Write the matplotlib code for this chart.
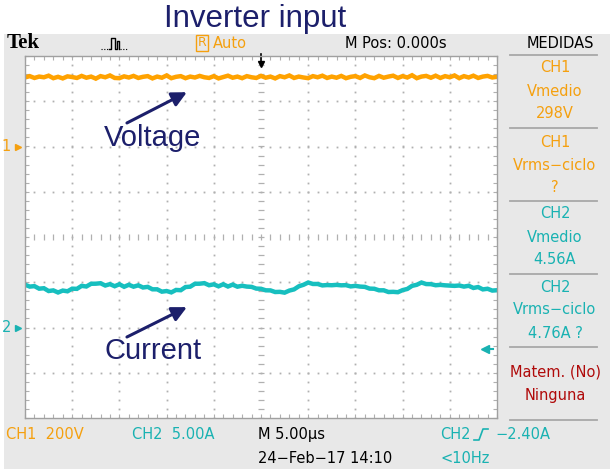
import matplotlib.pyplot as plt
import numpy as np
from matplotlib.lines import Line2D
from matplotlib.patches import Rectangle

# ---- datos ----
ch1_volts = [305, 311, 303, 309, 306, 313, 302, 308, 301, 310,
             307, 303, 312, 304, 309, 300, 311, 306, 314, 303,
             302, 310, 305, 312, 303, 308, 311, 301, 309, 304,
             314, 302, 308, 311, 302, 309, 305, 312, 306, 303,
             311, 301, 307, 313, 304, 309, 302, 311, 306, 303,
             312, 304, 309, 301, 311, 306, 314, 303, 309, 305,
             302, 311, 306, 313, 303, 309, 304, 312, 302, 308,
             311, 303, 314, 306, 302, 312, 304, 309, 313, 303,
             311, 305, 315, 302, 309, 312, 304, 313, 303, 311,
             306, 314, 302, 311, 305, 313, 303, 309, 312, 305, 308]
ch2_amps = [4.73, 4.52, 4.57, 4.29, 4.34, 4.03, 4.10, 3.87, 4.08, 4.00,
            4.29, 4.27, 4.60, 4.53, 4.83, 4.84, 4.89, 4.64, 4.79, 4.56,
            4.78, 4.50, 4.72, 4.51, 4.66, 4.42, 4.49, 4.22, 4.22, 3.96,
            4.03, 3.88, 4.15, 4.12, 4.47, 4.51, 4.83, 4.84, 4.90, 4.67,
            4.77, 4.55, 4.78, 4.53, 4.74, 4.51, 4.61, 4.52, 4.49, 4.30,
            4.28, 4.11, 4.10, 3.92, 3.94, 3.85, 4.08, 4.21, 4.55, 4.72,
            4.97, 4.81, 4.81, 4.65, 4.69, 4.67, 4.71, 4.66, 4.68, 4.54,
            4.60, 4.52, 4.49, 4.30, 4.28, 4.11, 4.11, 3.92, 3.94, 3.90,
            4.13, 4.26, 4.60, 4.72, 4.97, 4.80, 4.79, 4.67, 4.71, 4.66,
            4.63, 4.60, 4.64, 4.52, 4.61, 4.37, 4.47, 4.21, 4.28, 4.08,
            4.12]
time_us = np.linspace(-25, 25, len(ch1_volts))

ch1_scale, ch1_pos = 200.0, 2.0   # V/div, div
ch2_scale, ch2_pos = 5.0, -2.0    # A/div, div
trig_level = -2.40                # A

medidas = [
    (['CH1', 'Vmedio', '298V'], 'orange'),
    (['CH1', 'Vrms\u2212ciclo', '?'], 'orange'),
    (['CH2', 'Vmedio', '4.56A'], 'cyan'),
    (['CH2', 'Vrms\u2212ciclo', '4.76A ?'], 'cyan'),
    (['Matem. (No)', 'Ninguna'], 'red'),
]

colors = {'orange': '#f5a00f', 'cyan': '#19b2b2', 'red': '#b00a0a'}
trace1_color = '#ffa200'
trace2_color = '#17bfbf'
navy = '#1c1f6b'
grat = '#b0b0b0'
bg = '#e8e8e8'

W, H = 610, 469
scope_font = ['Liberation Sans Narrow', 'DejaVu Sans']
fig = plt.figure(figsize=(W / 100, H / 100), dpi=100)
fig.patch.set_facecolor('white')


def px(x, y):
    return x / W, 1 - y / H


def stext(x, y, s, color='black', size=10.5, ha='left', **kw):
    fig.text(*px(x, y), s, color=color, fontsize=size, ha=ha, va='center',
             family=scope_font, **kw)


# fondo gris de la pantalla
back = fig.add_axes([0, 0, 1, 1], zorder=-5)
back.set_axis_off()
back.set_xlim(0, W)
back.set_ylim(H, 0)
back.add_patch(Rectangle((4, 34), W - 4, H - 34, color=bg, lw=0))

# reticula
ax = fig.add_axes([25 / W, 1 - 418 / H, 472 / W, 362 / H], zorder=1)
ax.set_facecolor('white')
ax.set_xlim(-25, 25)
ax.set_ylim(-4, 4)
ax.set_xticks(np.arange(-25, 25.01, 1))
ax.set_yticks(np.arange(-4, 4.01, 0.2))
ax.tick_params(direction='in', length=3, width=0.8, color=grat,
               top=True, right=True, labelbottom=False, labelleft=False)
for sp in ax.spines.values():
    sp.set_color('#a0a0a0')
    sp.set_linewidth(1)

ys = np.arange(-4, 4.01, 0.2)
xs = np.arange(-25, 25.01, 1)
for xv in range(-20, 21, 5):
    if xv == 0:
        ax.plot(np.zeros_like(ys), ys, ls='none', marker='_', ms=5,
                mew=0.9, color=grat)
    else:
        ax.plot(np.full_like(ys, xv), ys, ls='none', marker='s', ms=1.3,
                mew=0, color=grat)
for yv in range(-3, 4):
    if yv == 0:
        ax.plot(xs, np.zeros_like(xs), ls='none', marker='|', ms=5,
                mew=0.9, color=grat)
    else:
        ax.plot(xs, np.full_like(xs, yv, dtype=float), ls='none',
                marker='s', ms=1.3, mew=0, color=grat)

# trazas
ax.plot(time_us, ch1_pos + np.array(ch1_volts) / ch1_scale,
        color=trace1_color, lw=3.2, solid_joinstyle='miter')
ax.plot(time_us, ch2_pos + np.array(ch2_amps) / ch2_scale,
        color=trace2_color, lw=3.2, solid_joinstyle='miter')

# marcadores de canal y disparo
ax.plot([-25.7], [ch1_pos], marker='>', ms=5, color=colors['orange'],
        clip_on=False)
ax.text(-26.5, ch1_pos, '1', color=colors['orange'], fontsize=10.5,
        ha='right', va='center', family=scope_font)
ax.plot([-25.7], [ch2_pos], marker='>', ms=5, color=colors['cyan'],
        clip_on=False)
ax.text(-26.5, ch2_pos, '2', color=colors['cyan'], fontsize=10.5,
        ha='right', va='center', family=scope_font)
trig_y = ch2_pos + trig_level / ch2_scale
ax.plot([23.7], [trig_y], marker='<', ms=6, color=colors['cyan'],
        clip_on=False)
ax.plot([23.7, 24.6], [trig_y, trig_y], color=colors['cyan'], lw=1.5)
ax.plot([0], [3.82], marker='v', ms=5, color='black', clip_on=False)
ax.plot([0, 0], [3.84, 4.05], color='black', lw=1.2, clip_on=False)

# anotaciones
ax.annotate('', xy=(-7.85, 3.20), xytext=(-14.2, 2.52),
            arrowprops=dict(arrowstyle='-|>', mutation_scale=22, lw=2.2,
                            color=navy, shrinkA=0, shrinkB=0))
ax.text(-11.45, 2.19, 'Voltage', color=navy, fontsize=21, ha='center',
        va='center', family='Liberation Sans')
ax.annotate('', xy=(-7.85, -1.55), xytext=(-14.2, -2.21),
            arrowprops=dict(arrowstyle='-|>', mutation_scale=22, lw=2.2,
                            color=navy, shrinkA=0, shrinkB=0))
ax.text(-11.45, -2.52, 'Current', color=navy, fontsize=21, ha='center',
        va='center', family='Liberation Sans')

# titulo
fig.text(*px(255, 19), 'Inverter input', color=navy, fontsize=22.5,
         ha='center', va='center', family='Liberation Sans')

# cabecera
fig.text(*px(7, 43), 'Tek', fontsize=15, fontweight='bold',
         family='Liberation Serif', va='center', ha='left')
fig.add_artist(Line2D(*zip(*[px(101, 49), px(109, 49)]),
                      transform=fig.transFigure, color='black', lw=0.8,
                      ls=(0, (1, 1.5))))
fig.add_artist(Line2D(*zip(*[px(109, 49), px(111, 49), px(111, 38),
                             px(115, 38), px(115, 49), px(117, 49),
                             px(117, 41), px(119, 41), px(119, 49)]),
                      transform=fig.transFigure, color='black', lw=1))
fig.add_artist(Line2D(*zip(*[px(120, 49), px(127, 49)]),
                      transform=fig.transFigure, color='black', lw=0.8,
                      ls=(0, (1, 1.5))))
stext(202, 43, 'R', colors['orange'], size=9, ha='center',
      bbox=dict(boxstyle='square,pad=0.15', fc='none',
                ec=colors['orange'], lw=1))
stext(213, 43, 'Auto', colors['orange'])
stext(345, 43, 'M Pos: 0.000s')
stext(560, 43, 'MEDIDAS', ha='center')

# panel de medidas
for ysep in [55, 128, 201, 274, 347, 420]:
    fig.add_artist(Line2D(*zip(*[px(510, ysep), px(597, ysep)]),
                          transform=fig.transFigure, color='#a8a8a8',
                          lw=1.3))
for (lines, cname), y0 in zip(medidas, [68, 142, 214, 287, 372]):
    for k, s in enumerate(lines):
        stext(555, y0 + k * 23, s, colors[cname], ha='center')

# pie
stext(6, 434, 'CH1  200V', colors['orange'])
stext(132, 434, 'CH2  5.00A', colors['cyan'])
stext(258, 434, 'M 5.00\u00b5s')
stext(258, 458, '24\u2212Feb\u221217 14:10')
stext(440, 434, 'CH2', colors['cyan'])
fig.add_artist(Line2D(*zip(*[px(474, 440), px(479, 440), px(483, 429),
                             px(488, 429)]),
                      transform=fig.transFigure, color=colors['cyan'],
                      lw=1.2))
stext(495, 434, '\u22122.40A', colors['cyan'])
stext(440, 458, '<10Hz', colors['cyan'])

fig.savefig('out.png', dpi=100, facecolor=fig.get_facecolor())
